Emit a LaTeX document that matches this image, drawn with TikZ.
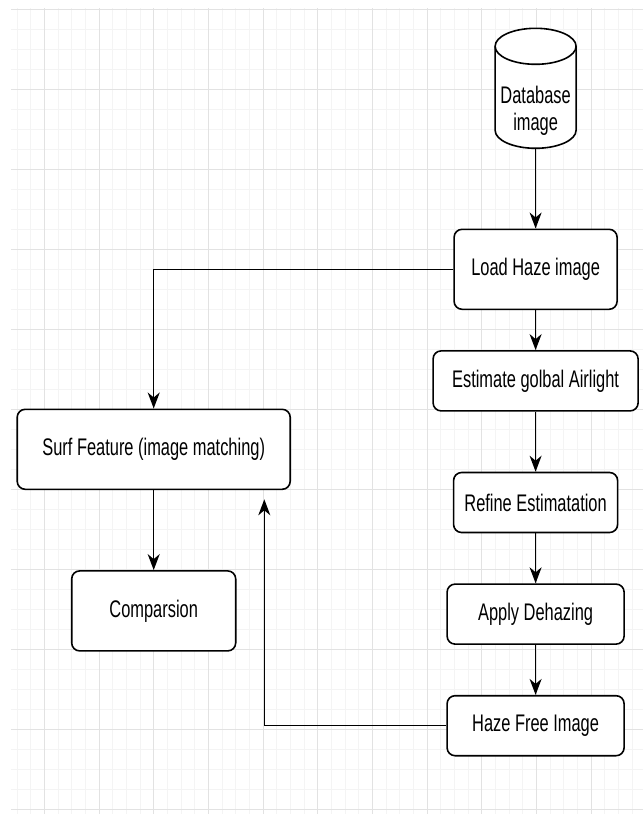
\documentclass[tikz,border=0pt]{standalone}
\usepackage{fontspec}
\setmainfont{Liberation Sans}[FakeStretch=0.684]
\usetikzlibrary{positioning,arrows.meta,calc}
\definecolor{gridMajor}{HTML}{E2E2E2}
\definecolor{gridMinor}{HTML}{F4F4F4}

\begin{document}
\begin{tikzpicture}[x=1pt, y=-1pt, font=\fontsize{24}{27}\selectfont,
          >={Stealth[length=16pt, width=12pt, inset=5pt]},
          proc/.style={draw, line width=1.6pt, rounded corners=8pt, fill=white, inner sep=0pt},
          store/.style={minimum width=81pt, minimum height=76pt, inner sep=0pt, align=center},
          flow/.style={->, line width=1.5pt}]
        \useasboundingbox (0,0) rectangle (643,814);
        % grid paper
        \begin{scope}
          \clip (11,8) rectangle (643,814);
          \foreach \i in {0,...,47} \draw[gridMinor, line width=0.8pt] (3.3+13.67*\i,8) -- (3.3+13.67*\i,814);
          \foreach \i in {0,...,40} \draw[gridMinor, line width=1pt] (11,9.3+20*\i) -- (643,9.3+20*\i);
          \foreach \i in {0,...,11} \draw[gridMajor, line width=0.9pt] (44.3+54.68*\i,8) -- (44.3+54.68*\i,814);
          \foreach \i in {0,...,10} \draw[gridMajor, line width=1.4pt] (11,9.3+80*\i) -- (643,9.3+80*\i);
        \end{scope}
        % database drum
        \filldraw[line width=1.6pt, fill=white] (495.1,46.3) -- (495.1,130.3)
          arc[start angle=180, end angle=360, x radius=40.5pt, y radius=18pt] -- (576.1,46.3);
        \filldraw[line width=1.6pt, fill=white] (535.6,46.3) ellipse[x radius=40.5pt, y radius=18pt];
        \node[store] (db) at (535.6,110.3) {Database\\image};
        % right column
        \node[proc, minimum width=163pt, minimum height=80pt] (load) at (535.6,269.3) {Load Haze image};
        \node[proc, minimum width=205pt, minimum height=60pt, below=40pt of load] (airlight) {Estimate golbal Airlight};
        \node[proc, minimum width=164pt, minimum height=60pt, below=60pt of airlight] (refine) {Refine Estimatation};
        \node[proc, minimum width=177pt, minimum height=60pt, below=50pt of refine] (dehaze) {Apply Dehazing};
        \node[proc, minimum width=177pt, minimum height=60pt, below=50pt of dehaze] (clear) {Haze Free Image};
        % left column
        \node[proc, minimum width=273pt, minimum height=80pt] (surf) at (153.7,449.3) {Surf Feature (image matching)};
        \node[proc, minimum width=164pt, minimum height=80pt, below=80pt of surf] (compare) {Comparsion};
        \coordinate (back) at (264.3,499.3);
        \draw[flow] (db.south) -- (load.north); \draw[flow] (load) -- (airlight); \draw[flow] (airlight) -- (refine);
        \draw[flow] (refine) -- (dehaze); \draw[flow] (dehaze) -- (clear);
        \draw[flow] (load.west) -| (surf.north); \draw[flow] (surf) -- (compare);
        \draw[flow] (clear.west) -| (back);
      \end{tikzpicture}
\end{document}
